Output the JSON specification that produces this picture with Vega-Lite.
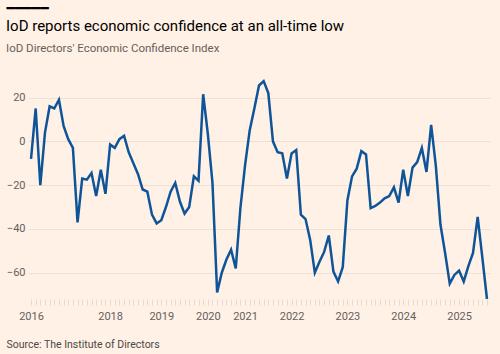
{
  "$schema": "https://vega.github.io/schema/vega-lite/v6.json",
  "width": 462,
  "height": 219,
  "autosize": {"type": "none"},
  "padding": {"left": 28, "top": 80, "right": 10, "bottom": 55},
  "background": "#FFF1E5",
  "title": {
    "text": "IoD reports economic confidence at an all-time low",
    "subtitle": "IoD Directors' Economic Confidence Index",
    "anchor": "start",
    "frame": "group",
    "dx": -22,
    "font": "Roboto",
    "fontSize": 15,
    "fontWeight": "normal",
    "color": "#000000",
    "subtitleFont": "Roboto",
    "subtitleFontSize": 11.5,
    "subtitleColor": "#66605C",
    "subtitlePadding": 9,
    "offset": -53
  },
  "data": {
    "values": [
      {"i": 0, "v": -8}, {"i": 1, "v": 15}, {"i": 2, "v": -20}, {"i": 3, "v": 4}, {"i": 4, "v": 16},
      {"i": 5, "v": 15}, {"i": 6, "v": 19}, {"i": 7, "v": 7}, {"i": 8, "v": 1}, {"i": 9, "v": -3},
      {"i": 10, "v": -37}, {"i": 11, "v": -17}, {"i": 12, "v": -17.5}, {"i": 13, "v": -14.5}, {"i": 14, "v": -25},
      {"i": 15, "v": -13}, {"i": 16, "v": -24}, {"i": 17, "v": -1.5}, {"i": 18, "v": -3}, {"i": 19, "v": 1},
      {"i": 20, "v": 2.5}, {"i": 21, "v": -5}, {"i": 22, "v": -10}, {"i": 23, "v": -15}, {"i": 24, "v": -22},
      {"i": 25, "v": -23}, {"i": 26, "v": -33.5}, {"i": 27, "v": -37.5}, {"i": 28, "v": -36}, {"i": 29, "v": -30},
      {"i": 30, "v": -23}, {"i": 31, "v": -19}, {"i": 32, "v": -27.5}, {"i": 33, "v": -33}, {"i": 34, "v": -30},
      {"i": 35, "v": -16}, {"i": 36, "v": -18}, {"i": 37, "v": 21.5}, {"i": 38, "v": 3.5}, {"i": 39, "v": -19},
      {"i": 40, "v": -69}, {"i": 41, "v": -60}, {"i": 42, "v": -54}, {"i": 43, "v": -49.5}, {"i": 44, "v": -58},
      {"i": 45, "v": -30.5}, {"i": 46, "v": -11}, {"i": 47, "v": 5}, {"i": 48, "v": 15}, {"i": 49, "v": 25.5},
      {"i": 50, "v": 27.5}, {"i": 51, "v": 22}, {"i": 52, "v": 0}, {"i": 53, "v": -5}, {"i": 54, "v": -5.5},
      {"i": 55, "v": -17}, {"i": 56, "v": -5.5}, {"i": 57, "v": -4}, {"i": 58, "v": -33.5}, {"i": 59, "v": -35.5},
      {"i": 60, "v": -45}, {"i": 61, "v": -60}, {"i": 62, "v": -55}, {"i": 63, "v": -50.5}, {"i": 64, "v": -43},
      {"i": 65, "v": -59.5}, {"i": 66, "v": -64}, {"i": 67, "v": -57.5}, {"i": 68, "v": -27}, {"i": 69, "v": -16},
      {"i": 70, "v": -12.5}, {"i": 71, "v": -4.5}, {"i": 72, "v": -6}, {"i": 73, "v": -30.5}, {"i": 74, "v": -29.5},
      {"i": 75, "v": -28}, {"i": 76, "v": -26}, {"i": 77, "v": -25}, {"i": 78, "v": -21}, {"i": 79, "v": -28},
      {"i": 80, "v": -13}, {"i": 81, "v": -25}, {"i": 82, "v": -12}, {"i": 83, "v": -9.5}, {"i": 84, "v": -3},
      {"i": 85, "v": -14}, {"i": 86, "v": 7.5}, {"i": 87, "v": -11}, {"i": 88, "v": -38}, {"i": 89, "v": -51},
      {"i": 90, "v": -65}, {"i": 91, "v": -61}, {"i": 92, "v": -59}, {"i": 93, "v": -64}, {"i": 94, "v": -57},
      {"i": 95, "v": -51}, {"i": 96, "v": -34.5}, {"i": 97, "v": -53}, {"i": 98, "v": -72}
    ]
  },
  "mark": {"type": "line", "color": "#0F5499", "strokeWidth": 2.5, "clip": false},
  "encoding": {
    "x": {
      "field": "i",
      "type": "quantitative",
      "scale": {"domain": [-0.65, 98.65], "nice": false, "zero": false},
      "axis": {
        "values": [0,1,2,3,4,5,6,7,8,9,10,11,12,13,14,15,16,17,18,19,20,21,22,23,24,25,26,27,28,29,30,31,32,33,34,35,36,37,38,39,40,41,42,43,44,45,46,47,48,49,50,51,52,53,54,55,56,57,58,59,60,61,62,63,64,65,66,67,68,69,70,71,72,73,74,75,76,77,78,79,80,81,82,83,84,85,86,87,88,89,90,91,92,93,94,95,96,97,98],
        "labelExpr": "datum.value==0?'2016':datum.value==17?'2018':datum.value==28?'2019':datum.value==38?'2020':datum.value==46?'2021':datum.value==56?'2022':datum.value==68?'2023':datum.value==80?'2024':datum.value==92?'2025':''",
        "labelOverlap": false,
        "labelFlush": false,
        "labelFont": "Roboto",
        "labelFontSize": 11,
        "labelColor": "#66605C",
        "labelPadding": 5,
        "domain": false,
        "grid": false,
        "ticks": true,
        "tickColor": "#E6D9CE",
        "tickSize": 6,
        "tickWidth": 1,
        "title": "Source: The Institute of Directors",
        "titleFont": "Roboto",
        "titleFontSize": 10.5,
        "titleFontWeight": "normal",
        "titleColor": "#4D4845",
        "titleAnchor": "start",
        "titleAlign": "left",
        "titleBaseline": "alphabetic",
        "titleX": -22,
        "titleY": 48
      }
    },
    "y": {
      "field": "v",
      "type": "quantitative",
      "scale": {"domain": [-72, 28], "nice": false, "zero": false},
      "axis": {
        "values": [-60, -40, -20, 0, 20],
        "labelFont": "Roboto",
        "labelFontSize": 11,
        "labelColor": "#66605C",
        "labelPadding": 3,
        "domain": false,
        "ticks": false,
        "grid": true,
        "gridColor": "#EDE1D6",
        "gridWidth": 1,
        "title": "━━━━━",
        "titleFont": "DejaVu Sans",
        "titleFontSize": 14,
        "titleFontWeight": "normal",
        "titleColor": "#000000",
        "titleAngle": 0,
        "titleAlign": "left",
        "titleBaseline": "middle",
        "titleX": -22,
        "titleY": -71.5
      }
    }
  },
  "config": {"view": {"stroke": null}}
}
